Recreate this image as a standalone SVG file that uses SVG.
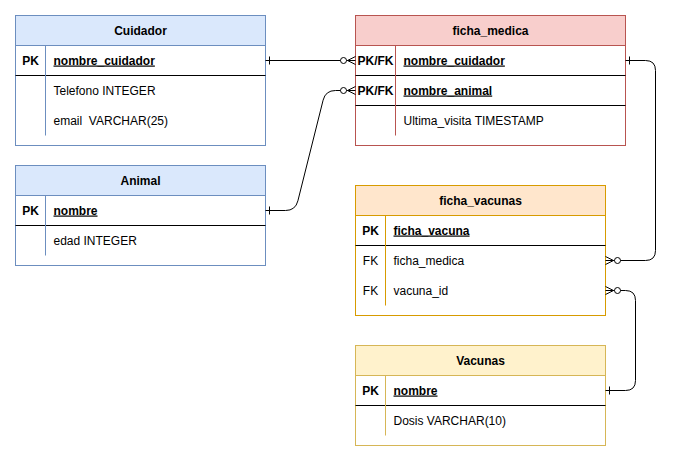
<svg xmlns="http://www.w3.org/2000/svg" width="681" height="462" viewBox="0 0 681 462">
<style>
text{font-family:"Liberation Sans",Arial,sans-serif;font-size:12px;fill:#000}
.h{font-weight:bold;text-anchor:middle}
.k{font-weight:bold;text-anchor:middle}
.pk{font-weight:bold;text-decoration:underline}
.sep{stroke:#000;stroke-width:1;fill:none}
.blue{fill:#dae8fc;stroke:#6c8ebf}
.red{fill:#f8cecc;stroke:#b85450}
.orange{fill:#ffe6cc;stroke:#d79b00}
.yellow{fill:#fff2cc;stroke:#d6b656}
.body{fill:#fff}
.edge{fill:none;stroke:#000;stroke-width:1}
.circ{fill:#fff;stroke:#000;stroke-width:1}
</style>
<rect width="681" height="462" fill="#fff"/>
<g transform="translate(0.5,0.5)">
<g id="cuidador">
<rect x="15" y="15" width="250" height="130" class="body" stroke="#6c8ebf"/>
<rect x="15" y="15" width="250" height="30" class="blue"/>
<line x1="15" y1="75" x2="265" y2="75" class="sep"/>
<line x1="45" y1="45" x2="45" y2="135" stroke="#6c8ebf"/>
<text x="140" y="34" class="h">Cuidador</text>
<text x="30" y="64" class="k">PK</text>
<text x="53" y="64" class="pk">nombre_cuidador</text>
<text x="53" y="94">Telefono INTEGER</text>
<text x="53" y="124">email&#160; VARCHAR(25)</text>
</g>
<g id="animal">
<rect x="15" y="165" width="250" height="100" class="body" stroke="#6c8ebf"/>
<rect x="15" y="165" width="250" height="30" class="blue"/>
<line x1="15" y1="225" x2="265" y2="225" class="sep"/>
<line x1="45" y1="195" x2="45" y2="255" stroke="#6c8ebf"/>
<text x="140" y="184" class="h">Animal</text>
<text x="30" y="214" class="k">PK</text>
<text x="53" y="214" class="pk">nombre</text>
<text x="53" y="244">edad INTEGER</text>
</g>
<g id="ficha_medica">
<rect x="355" y="15" width="270" height="130" class="body" stroke="#b85450"/>
<rect x="355" y="15" width="270" height="30" class="red"/>
<line x1="355" y1="75" x2="625" y2="75" class="sep"/>
<line x1="355" y1="105" x2="625" y2="105" class="sep"/>
<line x1="395" y1="45" x2="395" y2="135" stroke="#b85450"/>
<text x="490" y="34" class="h">ficha_medica</text>
<text x="375" y="64" class="k">PK/FK</text>
<text x="403" y="64" class="pk">nombre_cuidador</text>
<text x="375" y="94" class="k">PK/FK</text>
<text x="403" y="94" class="pk">nombre_animal</text>
<text x="403" y="124">Ultima_visita TIMESTAMP</text>
</g>
<g id="ficha_vacunas">
<rect x="355" y="185" width="250" height="130" class="body" stroke="#d79b00"/>
<rect x="355" y="185" width="250" height="30" class="orange"/>
<line x1="355" y1="245" x2="605" y2="245" class="sep"/>
<line x1="385" y1="215" x2="385" y2="305" stroke="#d79b00"/>
<text x="480" y="204" class="h">ficha_vacunas</text>
<text x="370" y="234" class="k">PK</text>
<text x="393" y="234" class="pk">ficha_vacuna</text>
<text x="370" y="264" text-anchor="middle">FK</text>
<text x="393" y="264">ficha_medica</text>
<text x="370" y="294" text-anchor="middle">FK</text>
<text x="393" y="294">vacuna_id</text>
</g>
<g id="vacunas">
<rect x="355" y="345" width="250" height="100" class="body" stroke="#d6b656"/>
<rect x="355" y="345" width="250" height="30" class="yellow"/>
<line x1="355" y1="405" x2="605" y2="405" class="sep"/>
<line x1="385" y1="375" x2="385" y2="435" stroke="#d6b656"/>
<text x="480" y="364" class="h">Vacunas</text>
<text x="370" y="394" class="k">PK</text>
<text x="393" y="394" class="pk">nombre</text>
<text x="393" y="424">Dosis VARCHAR(10)</text>
</g>
<g id="connectors">
<!-- Cuidador -> ficha_medica -->
<path class="edge" d="M265,60 H355"/>
<path class="edge" d="M269,56 V64"/>
<path class="edge" d="M355,56 L347,60 L355,64"/>
<circle class="circ" cx="343" cy="60" r="3"/>
<!-- Animal -> ficha_medica -->
<path class="edge" d="M265,210 H285 Q295,210 297.4,200.3 L322.6,99.7 Q325,90 335,90 H355"/>
<path class="edge" d="M269,206 V214"/>
<path class="edge" d="M355,86 L347,90 L355,94"/>
<circle class="circ" cx="343" cy="90" r="3"/>
<!-- ficha_medica -> ficha_vacunas -->
<path class="edge" d="M625,60 H645 Q655,60 655,70 V250 Q655,260 645,260 H605"/>
<path class="edge" d="M629,56 V64"/>
<path class="edge" d="M605,256 L613,260 L605,264"/>
<circle class="circ" cx="617" cy="260" r="3"/>
<!-- ficha_vacunas -> Vacunas -->
<path class="edge" d="M605,290 H625 Q635,290 635,300 V380 Q635,390 625,390 H605"/>
<path class="edge" d="M605,286 L613,290 L605,294"/>
<circle class="circ" cx="617" cy="290" r="3"/>
<path class="edge" d="M609,386 V394"/>
</g>
</g>
</svg>
